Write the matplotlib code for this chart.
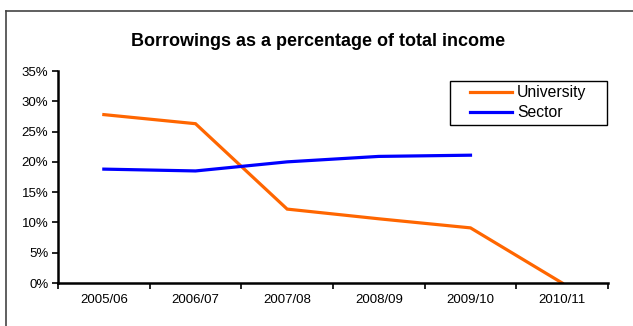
import numpy as np
import matplotlib
matplotlib.use("Agg")
import matplotlib.pyplot as plt
from matplotlib.lines import Line2D
from matplotlib.patches import Rectangle
from matplotlib.ticker import FuncFormatter, FixedLocator

categories = ["2005/06", "2006/07", "2007/08", "2008/09", "2009/10", "2010/11"]
university = [27.8, 26.3, 12.2, 10.6, 9.1, 0.0]
sector = [18.8, 18.5, 20.0, 20.9, 21.1, np.nan]
yticks = [0, 5, 10, 15, 20, 25, 30, 35]

plt.rcParams['font.family'] = ['Liberation Sans', 'DejaVu Sans']

W, H = 633, 326
fig = plt.figure(figsize=(W/100, H/100), dpi=100)
ax = fig.add_axes([58/W, 1-283/H, (608-58)/W, (283-71)/H])

x = np.arange(len(categories))
ax.plot(x, university, color='#FF6600', lw=2.3, label='University', solid_joinstyle='miter')
ax.plot(x, sector, color='#0000FF', lw=2.3, label='Sector', solid_joinstyle='miter')

ax.set_xlim(-0.5, len(categories) - 0.5)
ax.set_ylim(0, 35)
ax.set_yticks(yticks)
ax.yaxis.set_major_formatter(FuncFormatter(lambda v, p: f"{int(v)}%"))

ax.xaxis.set_major_locator(FixedLocator(np.arange(len(categories) + 1) - 0.5))
ax.xaxis.set_minor_locator(FixedLocator(x))
ax.set_xticklabels([], minor=False)
ax.set_xticklabels(categories, minor=True)
ax.tick_params(axis='x', which='minor', length=0, pad=8, labelsize=9.5)
ax.tick_params(axis='x', which='major', length=4, width=1.2, direction='out')
ax.tick_params(axis='y', length=4, width=1.2, direction='out', labelsize=9.5, pad=3)

for s in ['top', 'right']:
    ax.spines[s].set_visible(False)
for s in ['left', 'bottom']:
    ax.spines[s].set_linewidth(1.8)
    ax.spines[s].set_color('black')

# legend (frame drawn separately for wider horizontal padding)
leg = ax.legend(loc='upper left', bbox_to_anchor=(470/W, 1-85/H), bbox_transform=fig.transFigure,
                fontsize=11.3, frameon=False,
                handlelength=2.7, handletextpad=0.3, borderpad=0, labelspacing=0.33,
                borderaxespad=0)
fig.add_artist(Rectangle((450/W, 1-125/H), (607-450)/W, (125-81)/H, transform=fig.transFigure,
                         fill=False, edgecolor='black', lw=1.0))

fig.text(318/W, 1-41/H, "Borrowings as a percentage of total income",
         ha='center', va='center', fontsize=13, fontweight='bold')

# outer chart-area border (partially visible)
fig.add_artist(Line2D([6/W, 1.0], [1-11/H, 1-11/H], transform=fig.transFigure, color='#444444', lw=1.2))
fig.add_artist(Line2D([6/W, 6/W], [0, 1-11/H], transform=fig.transFigure, color='#444444', lw=1.2))

fig.savefig("out.png", dpi=100)
